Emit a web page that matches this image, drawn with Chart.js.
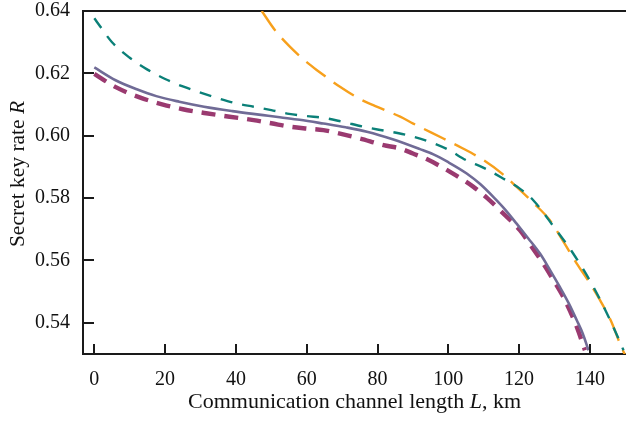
<!DOCTYPE html>
<html>
<head>
<meta charset="utf-8">
<script src="https://cdn.jsdelivr.net/npm/chart.js@4"></script>
<style>
  html, body { margin: 0; padding: 0; background: #fff; }
  #wrap { width: 626px; height: 421px; }
</style>
</head>
<body>
<div id="wrap"><canvas id="c" width="626" height="421"></canvas></div>
<script>
// ---- data ----
const xTicks = [0, 20, 40, 60, 80, 100, 120, 140];
const yTicks = [0.54, 0.56, 0.58, 0.60, 0.62, 0.64];

const purpleX = [0, 6, 12, 17.5, 24, 31, 39, 47.7, 52.4, 58, 64.7, 71, 77, 84.5, 92, 95.8, 100, 105.2, 109, 112.7, 116, 119.3, 122.5, 125.9, 128.7, 131.5, 134, 136.3, 138, 139.6];
const purpleY = [0.6219, 0.6178, 0.6149, 0.6127, 0.6109, 0.6093, 0.6079, 0.6066, 0.6059, 0.6051, 0.6039, 0.6027, 0.6013, 0.5988, 0.5957, 0.5940, 0.5915, 0.5879, 0.5845, 0.5804, 0.5764, 0.5718, 0.5672, 0.5622, 0.5570, 0.5515, 0.5463, 0.5408, 0.5365, 0.5312];

const magentaX = [0, 6.2, 12.8, 19.4, 25, 31.6, 38.2, 45, 50, 55.3, 60, 64.7, 70, 75, 81.7, 86.4, 90, 93.9, 100.5, 107.1, 111, 114.6, 120.2, 123.5, 126.8, 129.7, 132.5, 134.5, 136.3, 138.6];
const magentaY = [0.6198, 0.6155, 0.6123, 0.6100, 0.6085, 0.6072, 0.6061, 0.6050, 0.6040, 0.6029, 0.6023, 0.6018, 0.6005, 0.5991, 0.5970, 0.5959, 0.5943, 0.5925, 0.5884, 0.5836, 0.5800, 0.5761, 0.5697, 0.5645, 0.5590, 0.5537, 0.5483, 0.5435, 0.5387, 0.5312];

const tealX = [0, 5, 10, 15, 20, 25, 30, 35, 40, 45, 50, 55, 60, 65, 70, 76, 80, 86, 90, 96, 100, 105, 110, 115, 120, 124, 130, 135, 141, 146.6, 149.5];
const tealY = [0.6377, 0.6300, 0.6250, 0.6212, 0.6182, 0.6158, 0.6138, 0.6120, 0.6104, 0.6093, 0.6082, 0.6070, 0.6063, 0.6057, 0.6045, 0.6029, 0.6020, 0.6008, 0.5997, 0.5975, 0.5955, 0.5922, 0.5897, 0.5866, 0.5832, 0.5793, 0.5705, 0.5627, 0.5515, 0.5387, 0.5312];

const orangeX = [47.3, 51, 55.3, 60, 62.8, 69.4, 75, 78.8, 86.4, 90.1, 98.6, 104, 109.9, 115, 119.3, 124, 128.7, 132, 136.3, 140, 142.9, 146, 148.5, 150];
const orangeY = [0.6400, 0.6339, 0.6285, 0.6236, 0.6211, 0.6157, 0.6118, 0.6098, 0.6061, 0.6039, 0.5991, 0.5960, 0.5922, 0.5880, 0.5836, 0.5785, 0.5729, 0.5670, 0.5590, 0.5527, 0.5472, 0.5405, 0.5333, 0.5295];

const xTitleParts = [['Communication channel length ', false], ['L', true], [', km', false]];
const yTitleParts = [['Secret key rate ', false], ['R', true]];

// ---- build ----
const pts = (xs, ys) => xs.map((x, i) => ({ x: x, y: ys[i] }));
const SERIF = '"Liberation Serif", "Times New Roman", serif';
const AX = '#1a1a1a';

const axisDeco = {
  id: 'axisDeco',
  afterDraw(chart) {
    const ctx = chart.ctx;
    const xs = chart.scales.x, ysc = chart.scales.y;
    const left = xs.left, bottom = ysc.bottom;
    ctx.save();
    ctx.fillStyle = AX;
    for (const v of yTicks) {
      const p = Math.round(ysc.getPixelForValue(v));
      ctx.fillRect(left, p - 1, 11, 2);
    }
    for (const v of xTicks) {
      const p = Math.round(xs.getPixelForValue(v));
      ctx.fillRect(p - 1, bottom - 10, 2, 10);
    }

    const drawParts = (parts, size) => {
      let total = 0;
      const w = parts.map(([t, it]) => {
        ctx.font = (it ? 'italic ' : '') + size + 'px ' + SERIF;
        const m = ctx.measureText(t).width; total += m; return m;
      });
      let cx = -total / 2;
      parts.forEach(([t, it], i) => {
        ctx.font = (it ? 'italic ' : '') + size + 'px ' + SERIF;
        ctx.fillText(t, cx, 0);
        cx += w[i];
      });
    };
    ctx.fillStyle = '#111';
    ctx.textAlign = 'left';
    ctx.textBaseline = 'alphabetic';
    ctx.save();
    ctx.translate((xs.left + xs.right) / 2, 408);
    drawParts(xTitleParts, 22);
    ctx.restore();
    ctx.save();
    ctx.translate(24, 174);
    ctx.rotate(-Math.PI / 2);
    drawParts(yTitleParts, 21.5);
    ctx.restore();
    ctx.restore();
  }
};

new Chart(document.getElementById('c'), {
  type: 'line',
  data: {
    datasets: [
      { data: pts(purpleX, purpleY), borderColor: '#706b96', borderWidth: 2.6, pointRadius: 0, cubicInterpolationMode: 'monotone', fill: false },
      { data: pts(magentaX, magentaY), borderColor: '#9a3a70', borderWidth: 4.4, borderDash: [14, 9], pointRadius: 0, cubicInterpolationMode: 'monotone', fill: false },
      { data: pts(tealX, tealY), borderColor: '#0b8078', borderWidth: 2.4, borderDash: [12, 10], pointRadius: 0, cubicInterpolationMode: 'monotone', fill: false },
      { data: pts(orangeX, orangeY), borderColor: '#f7a01c', borderWidth: 2.4, borderDash: [24, 10], pointRadius: 0, cubicInterpolationMode: 'monotone', fill: false }
    ]
  },
  options: {
    responsive: false,
    animation: false,
    devicePixelRatio: 1,
    layout: { padding: 0 },
    plugins: { legend: { display: false }, tooltip: { enabled: false } },
    scales: {
      x: {
        type: 'linear', position: 'bottom', min: -3.2, max: 150.2,
        afterBuildTicks: s => { s.ticks = xTicks.map(v => ({ value: v })); },
        afterFit: s => { s.height = 67; s.paddingLeft = 0; s.paddingRight = 0; },
        grid: { display: true, drawOnChartArea: false, drawTicks: false },
        border: { display: true, color: AX, width: 2 },
        ticks: { padding: 14, color: '#111', font: { family: SERIF, size: 20 }, callback: v => String(v), maxRotation: 0 }
      },
      x2: {
        type: 'linear', position: 'top', min: -3.2, max: 150.2,
        afterFit: s => { s.height = 11; s.paddingLeft = 0; s.paddingRight = 0; },
        grid: { display: true, drawOnChartArea: false, drawTicks: false },
        border: { display: true, color: AX, width: 2 },
        ticks: { display: false }
      },
      y: {
        type: 'linear', position: 'left', min: 0.53, max: 0.64,
        afterBuildTicks: s => { s.ticks = yTicks.map(v => ({ value: v })); },
        afterFit: s => { s.width = 83; s.paddingTop = 0; s.paddingBottom = 0; },
        grid: { display: true, drawOnChartArea: false, drawTicks: false },
        border: { display: true, color: AX, width: 2 },
        ticks: { padding: 13, color: '#111', font: { family: SERIF, size: 20 }, callback: v => v.toFixed(2) }
      }
    }
  },
  plugins: [axisDeco]
});
</script>
</body>
</html>
